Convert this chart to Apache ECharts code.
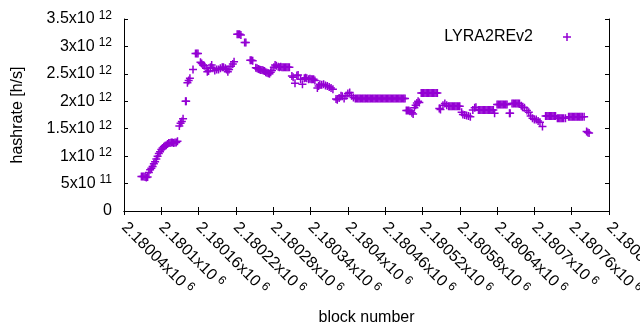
<!DOCTYPE html>
<html>
<head>
<meta charset="utf-8">
<script src="https://cdn.jsdelivr.net/npm/echarts@6/dist/echarts.min.js"></script>
<style>
  html, body { margin: 0; padding: 0; background: #fff; }
  #chart { width: 640px; height: 330px; }
</style>
</head>
<body>
<div id="chart"></div>
<script>
// hashrate values are in units of 10^12 h/s, x is block number
var seriesName = 'LYRA2REv2';

var rise = [
    [2180068,0.63],[2180070,0.63],[2180072,0.63],[2180074,0.62],[2180076,0.61],[2180078,0.62],
    [2180080,0.70],[2180082,0.75],[2180084,0.78],[2180086,0.81],[2180088,0.86],[2180090,0.90],
    [2180092,0.95],[2180094,1.00],[2180096,1.05],[2180098,1.08],[2180100,1.12],[2180102,1.15],
    [2180104,1.17],[2180106,1.19],[2180108,1.20],[2180110,1.22],[2180112,1.24],[2180114,1.24],
    [2180116,1.25],[2180118,1.25],[2180120,1.24],[2180122,1.25],[2180124,1.25],[2180126,1.27],
    [2180129,1.55],[2180131,1.60],[2180133,1.63],[2180135,1.68],[2180139,2.00],[2180140,2.00],
    [2180142,2.34],[2180144,2.38],[2180146,2.42],[2180151,2.58],
    [2180155,2.87],[2180157,2.87],[2180159,2.87]
];

var firstHump = [
    [2180163,2.71],[2180165,2.69],[2180167,2.66],[2180169,2.65],[2180172,2.60],[2180174,2.54],
    [2180176,2.55],[2180179,2.62],[2180181,2.66],[2180183,2.60],[2180186,2.56],[2180189,2.58],
    [2180192,2.58],[2180195,2.60],[2180198,2.62],[2180200,2.62],[2180203,2.60],[2180205,2.58],
    [2180207,2.54],[2180209,2.58],[2180212,2.64],[2180215,2.68],[2180217,2.72]
];

var peak = [
    [2180222,3.22],[2180224,3.22],[2180226,3.22],[2180228,3.21],
    [2180234,3.07],[2180236,3.07],
    [2180243,2.75],[2180245,2.75],[2180247,2.74],
    [2180252,2.61],[2180254,2.60],[2180256,2.59],[2180258,2.58],[2180260,2.57],[2180262,2.57],
    [2180264,2.56],[2180266,2.55],[2180268,2.53],[2180270,2.52],[2180272,2.51],[2180274,2.50],
    [2180276,2.53],[2180278,2.56],[2180281,2.62],[2180283,2.66],[2180285,2.65],
    [2180288,2.63],[2180290,2.62],[2180292,2.63],[2180294,2.62],[2180296,2.62],[2180298,2.62],
    [2180300,2.62],[2180302,2.62],[2180304,2.62],[2180306,2.62]
];

var decline = [
    [2180310,2.46],[2180312,2.44],[2180315,2.33],[2180318,2.47],[2180320,2.48],[2180324,2.40],
    [2180327,2.31],[2180330,2.42],[2180332,2.43],[2180334,2.42],[2180337,2.40],[2180339,2.41],
    [2180341,2.40],[2180343,2.40],[2180345,2.40],[2180347,2.38],
    [2180351,2.24],[2180353,2.28],[2180355,2.31],[2180358,2.30],[2180361,2.31],[2180364,2.29],
    [2180367,2.28],[2180370,2.26],[2180373,2.24],[2180376,2.22],
    [2180381,2.04],[2180383,2.03],[2180386,2.06],[2180389,2.10],[2180391,2.09],[2180394,2.05],
    [2180397,2.10],[2180400,2.14],[2180403,2.16],[2180406,2.10],[2180409,2.07]
];

var plateau = [
    [2180412,2.05],[2180414,2.05],[2180416,2.05],[2180418,2.05],[2180420,2.05],[2180422,2.05],
    [2180424,2.05],[2180426,2.05],[2180428,2.05],[2180430,2.05],[2180432,2.05],[2180434,2.05],
    [2180436,2.05],[2180438,2.05],[2180440,2.05],[2180442,2.05],[2180444,2.05],[2180446,2.05],
    [2180448,2.05],[2180450,2.05],[2180452,2.05],[2180454,2.05],[2180456,2.05],[2180458,2.05],
    [2180460,2.05],[2180462,2.05],[2180464,2.05],[2180466,2.05],[2180468,2.05],[2180470,2.05],
    [2180472,2.05],[2180474,2.05],[2180476,2.05],[2180478,2.05],[2180480,2.05],[2180482,2.05],
    [2180484,2.05],[2180486,2.05],[2180488,2.05],[2180490,2.05],[2180492,2.05]
];

var middle = [
    [2180494,1.83],[2180496,1.83],[2180498,1.83],[2180500,1.82],[2180503,1.79],[2180505,1.77],
    [2180507,1.88],[2180509,1.93],[2180511,1.97],[2180513,2.00],[2180515,1.98],
    [2180518,2.15],[2180520,2.15],[2180522,2.15],[2180524,2.15],[2180526,2.15],[2180528,2.15],
    [2180530,2.15],[2180532,2.15],[2180534,2.15],[2180536,2.15],[2180538,2.15],[2180540,2.15],
    [2180542,2.15],[2180544,2.15],
    [2180547,1.87],[2180549,1.85],[2180553,1.93],[2180556,1.96],[2180559,1.93],
    [2180562,1.91],[2180564,1.91],[2180566,1.91],[2180568,1.91],[2180570,1.91],[2180572,1.91],
    [2180574,1.91],[2180576,1.91],[2180578,1.91],[2180580,1.91],
    [2180583,1.80],[2180585,1.76],[2180588,1.75],[2180591,1.74],[2180594,1.73],[2180597,1.72],
    [2180601,1.84],[2180604,1.88],[2180606,1.89]
];

var tail = [
    [2180610,1.84],[2180612,1.84],[2180614,1.84],[2180616,1.84],[2180618,1.84],[2180620,1.84],
    [2180622,1.84],[2180624,1.84],[2180626,1.84],[2180628,1.84],[2180630,1.84],[2180632,1.84],
    [2180634,1.84],[2180636,1.78],
    [2180640,1.94],[2180642,1.94],[2180644,1.94],[2180646,1.94],[2180648,1.94],[2180650,1.94],
    [2180652,1.94],[2180654,1.94],[2180656,1.94],
    [2180660,1.78],[2180661,1.78],
    [2180664,1.96],[2180666,1.96],[2180668,1.96],[2180670,1.96],[2180672,1.96],[2180674,1.96],
    [2180676,1.96],
    [2180679,1.92],[2180681,1.89],[2180684,1.88],[2180688,1.83],[2180691,1.80],[2180694,1.73],
    [2180697,1.69],[2180700,1.67],[2180703,1.67],[2180706,1.64],[2180709,1.62],[2180713,1.54],
    [2180718,1.73],[2180720,1.73],[2180722,1.73],[2180724,1.73],[2180726,1.73],[2180728,1.73],
    [2180730,1.73],[2180732,1.73],[2180734,1.73],
    [2180737,1.69],[2180739,1.69],[2180741,1.69],[2180743,1.69],[2180745,1.69],[2180747,1.69],
    [2180750,1.69],
    [2180755,1.72],[2180757,1.72],[2180759,1.72],[2180761,1.72],[2180763,1.72],[2180765,1.72],
    [2180767,1.72],[2180769,1.72],[2180771,1.72],[2180773,1.72],[2180775,1.72],[2180777,1.72],
    [2180780,1.72],
    [2180784,1.45],[2180786,1.43],[2180788,1.42]
];

var xMin = 2180040, xMax = 2180820, xStep = 60;
var yMin = 0, yMax = 3.5, yStep = 0.5;

var font = 'Liberation Sans';
var plusPath = 'path://M3.25,0h1.5v3.25h3.25v1.5h-3.25v3.25h-1.5v-3.25h-3.25v-1.5h3.25z';
var sup = {
    m: { fontSize: 16, fontFamily: font, color: '#000' },
    e: { fontSize: 12, fontFamily: font, color: '#000', padding: [0, 0, 7, 4] }
};

function yLabel(v) {
    v = parseFloat(v.toFixed(2));
    if (v === 0) return '{m|0}';
    if (v < 1) return '{m|' + Math.round(v * 10) + 'x10}{e|11}';
    return '{m|' + v + 'x10}{e|12}';
}
function xLabel(v) {
    return '{m|' + parseFloat((v / 1e6).toFixed(5)) + 'x10}{e|6}';
}

var points = [].concat(rise, firstHump, peak, decline, plateau, middle, tail);

var myChart = echarts.init(document.getElementById('chart'));
var axisLine = { lineStyle: { color: '#000', width: 1 } };
var tick = { inside: true, length: 4, lineStyle: { color: '#000' } };

var option = {
    animation: false,
    grid: { left: 124, right: 31, top: 19, bottom: 119, containLabel: false, outerBoundsMode: 'none' },
    legend: {
        data: [seriesName],
        right: 64,
        top: 24,
        align: 'right',
        icon: plusPath,
        itemWidth: 8,
        itemHeight: 8,
        textStyle: { fontSize: 16, fontFamily: font, color: '#000', padding: [0, 25, 0, 0] }
    },
    xAxis: [{
        type: 'value', min: xMin, max: xMax, interval: xStep,
        name: 'block number', nameLocation: 'middle', nameGap: 99,
        nameTextStyle: { fontSize: 16, fontFamily: font, color: '#000' },
        axisLine: axisLine, axisTick: tick, splitLine: { show: false },
        axisLabel: { rotate: -45, margin: 14, formatter: xLabel, rich: sup, showMaxLabel: true, hideOverlap: false }
    }, {
        type: 'value', min: xMin, max: xMax, interval: xStep, position: 'top',
        axisLine: axisLine, axisTick: tick, splitLine: { show: false },
        axisLabel: { show: false }
    }],
    yAxis: [{
        type: 'value', min: yMin, max: yMax, interval: yStep,
        name: 'hashrate [h/s]', nameLocation: 'middle', nameGap: 98,
        nameTextStyle: { fontSize: 16, fontFamily: font, color: '#000' },
        axisLine: axisLine, axisTick: tick, splitLine: { show: false },
        axisLabel: { margin: 12, formatter: yLabel, rich: sup }
    }, {
        type: 'value', min: yMin, max: yMax, interval: yStep, position: 'right',
        axisLine: axisLine, axisTick: tick, splitLine: { show: false },
        axisLabel: { show: false }
    }],
    series: [{
        name: seriesName,
        type: 'scatter',
        xAxisIndex: 0,
        yAxisIndex: 0,
        symbol: plusPath,
        symbolSize: 8,
        itemStyle: { color: '#9400d3', opacity: 1 },
        data: points
    }]
};

myChart.setOption(option);
</script>
</body>
</html>
